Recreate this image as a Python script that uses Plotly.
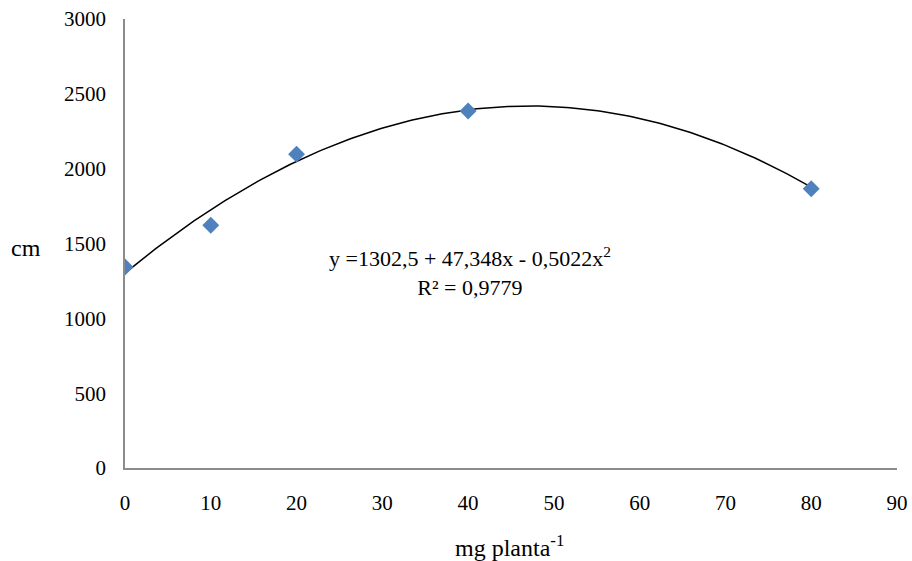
import numpy as np
import plotly.graph_objects as go

# Data
doses = [0, 10, 20, 40, 80]
heights = [1343, 1622, 2097, 2385, 1866]
# Trendline coefficients shown on the chart: y = a + b x + c x^2
coef_a, coef_b, coef_c = 1302.5, 47.348, -0.5022
x_ticks = [0, 10, 20, 30, 40, 50, 60, 70, 80, 90]
y_ticks = [0, 500, 1000, 1500, 2000, 2500, 3000]

xs = np.linspace(min(doses), max(doses), 200)
ys = coef_a + coef_b * xs + coef_c * xs ** 2

font = "Liberation Serif"

fig = go.Figure()
fig.add_trace(go.Scatter(x=xs, y=ys, mode="lines",
                         line=dict(color="black", width=1.5),
                         showlegend=False, hoverinfo="skip"))
fig.add_trace(go.Scatter(x=doses, y=heights, mode="markers",
                         marker=dict(symbol="diamond", size=13, color="#4F81BD"),
                         showlegend=False))

fig.update_layout(
    width=912, height=561,
    margin=dict(l=125, r=15, t=19, b=93, autoexpand=False),
    paper_bgcolor="white", plot_bgcolor="white",
    font=dict(family=font, size=21, color="black"),
    xaxis=dict(range=[0, 90], tickvals=x_ticks, showgrid=False, zeroline=False,
               showline=True, linecolor="#8c8c8c", linewidth=1.5, automargin=False,
               ticks="", ticklabelstandoff=15, tickfont=dict(family=font, size=21)),
    yaxis=dict(range=[0, 3000], tickvals=y_ticks, showgrid=False, zeroline=False,
               showline=True, linecolor="#8c8c8c", linewidth=1.5, automargin=False,
               ticks="", ticklabelstandoff=13, tickfont=dict(family=font, size=21)),
    annotations=[
        dict(text="cm", xref="paper", yref="paper", x=-0.106, y=0.49,
             xanchor="right", yanchor="middle", showarrow=False,
             font=dict(family=font, size=24)),
        dict(text="mg planta<sup>-1</sup>", xref="paper", yref="paper",
             x=0.498, y=-0.136, xanchor="center", yanchor="top",
             showarrow=False, font=dict(family=font, size=24)),
        dict(text="y =1302,5 + 47,348x - 0,5022x<sup>2</sup><br>R² = 0,9779",
             xref="paper", yref="paper", x=0.447, y=0.438,
             xanchor="center", yanchor="middle", showarrow=False,
             align="center", font=dict(family=font, size=22)),
    ],
)

fig.write_html("out.html")
